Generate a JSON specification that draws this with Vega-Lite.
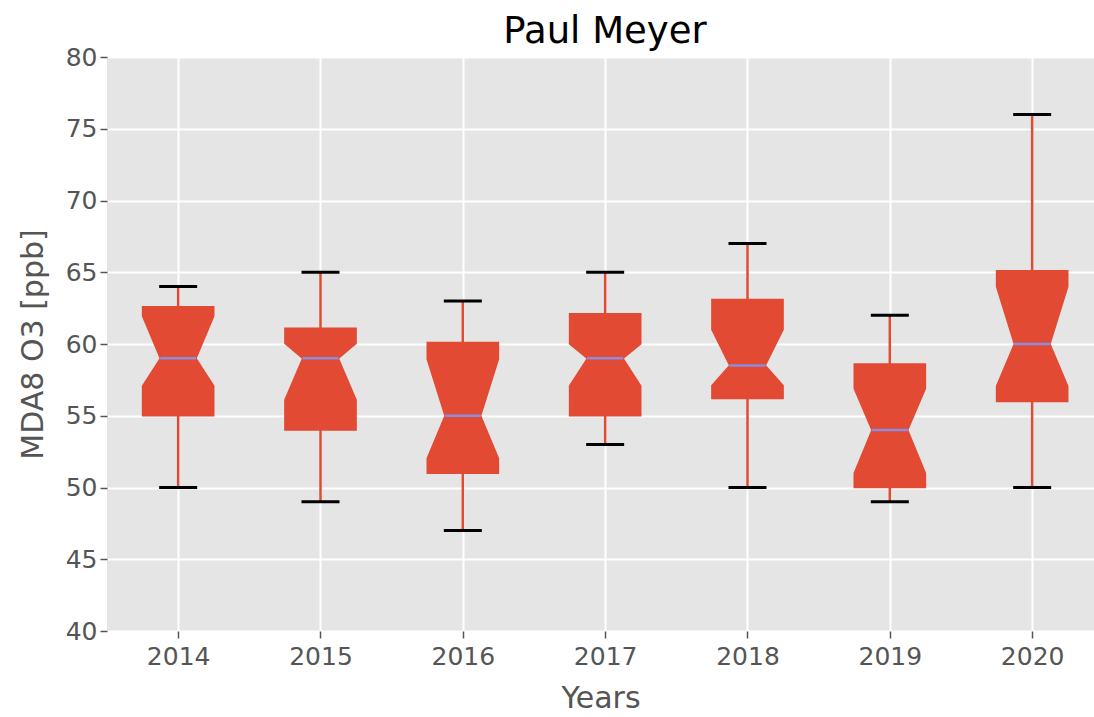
{
  "$schema": "https://vega.github.io/schema/vega-lite/v6.json",
  "autosize": {"type": "none"},
  "width": 987,
  "height": 574,
  "padding": {"left": 107, "top": 57, "right": 0, "bottom": 86},
  "background": "white",
  "title": {"text": "Paul Meyer", "font": "DejaVu Sans", "fontSize": 37, "fontWeight": "normal", "color": "#000000", "anchor": "middle", "dx": 4.5, "offset": -6},
  "data": {"values": [
    {"year": 2014, "lo": 50, "q1": 55, "nlo": 57.07, "med": 59, "nhi": 61.95, "q3": 62.6, "hi": 64},
    {"year": 2015, "lo": 49, "q1": 54, "nlo": 56.1, "med": 59, "nhi": 60.05, "q3": 61.1, "hi": 65},
    {"year": 2016, "lo": 47, "q1": 51, "nlo": 52.03, "med": 55, "nhi": 58.95, "q3": 60.1, "hi": 63},
    {"year": 2017, "lo": 53, "q1": 55, "nlo": 57.07, "med": 59, "nhi": 60, "q3": 62.1, "hi": 65},
    {"year": 2018, "lo": 50, "q1": 56.2, "nlo": 57.1, "med": 58.5, "nhi": 61, "q3": 63.1, "hi": 67},
    {"year": 2019, "lo": 49, "q1": 50, "nlo": 51, "med": 54, "nhi": 56.9, "q3": 58.6, "hi": 62},
    {"year": 2020, "lo": 50, "q1": 56, "nlo": 57.07, "med": 60, "nhi": 64, "q3": 65.1, "hi": 76}
  ]},
  "config": {
    "view": {"fill": "#E5E5E5", "stroke": null},
    "axis": {
      "domain": false,
      "grid": true,
      "gridColor": "#FFFFFF",
      "gridWidth": 2,
      "tickColor": "#555555",
      "tickWidth": 1.5,
      "tickSize": 7,
      "labelFont": "DejaVu Sans",
      "labelFontSize": 25,
      "labelColor": "#555555",
      "titleFont": "DejaVu Sans",
      "titleFontSize": 30,
      "titleFontWeight": "normal",
      "titleColor": "#555555"
    }
  },
  "encoding": {
    "x": {"field": "year", "type": "quantitative", "title": "Years",
      "scale": {"domain": [2013.5, 2020.4345], "nice": false, "zero": false},
      "axis": {"values": [2014, 2015, 2016, 2017, 2018, 2019, 2020], "format": "d", "labelPadding": 6, "titlePadding": 14}},
    "y": {"field": "lo", "type": "quantitative", "title": "MDA8 O3 [ppb]",
      "scale": {"domain": [40, 80], "nice": false, "zero": false},
      "axis": {"values": [40, 45, 50, 55, 60, 65, 70, 75, 80], "labelPadding": 3, "titlePadding": 17}}
  },
  "layer": [
    {
      "mark": {"type": "rule", "color": "#E24A33", "strokeWidth": 2.5},
      "encoding": {"y": {"field": "lo", "type": "quantitative"}, "y2": {"field": "q1"}}
    },
    {
      "mark": {"type": "rule", "color": "#E24A33", "strokeWidth": 2.5},
      "encoding": {"y": {"field": "q3", "type": "quantitative"}, "y2": {"field": "hi"}}
    },
    {
      "transform": [
        {"fold": ["q1", "nlo", "med", "nhi", "q3"], "as": ["stat", "v"]},
        {"calculate": "datum.stat === 'med' ? 0.125 : 0.25", "as": "hw"},
        {"calculate": "datum.year - datum.hw", "as": "xl"},
        {"calculate": "datum.year + datum.hw", "as": "xr"}
      ],
      "mark": {"type": "area", "orient": "horizontal", "color": "#E24A33", "stroke": "#E24A33", "strokeWidth": 1.5, "opacity": 1},
      "encoding": {
        "y": {"field": "v", "type": "quantitative"},
        "x": {"field": "xl", "type": "quantitative", "stack": null},
        "x2": {"field": "xr"},
        "detail": {"field": "year", "type": "nominal"}
      }
    },
    {
      "mark": {"type": "tick", "orient": "horizontal", "color": "#8C8CE0", "size": 36, "thickness": 2.5, "opacity": 1},
      "encoding": {"y": {"field": "med", "type": "quantitative"}}
    },
    {
      "mark": {"type": "tick", "orient": "horizontal", "color": "#000000", "size": 38, "thickness": 3, "opacity": 1},
      "encoding": {"y": {"field": "lo", "type": "quantitative"}}
    },
    {
      "mark": {"type": "tick", "orient": "horizontal", "color": "#000000", "size": 38, "thickness": 3, "opacity": 1},
      "encoding": {"y": {"field": "hi", "type": "quantitative"}}
    }
  ]
}
